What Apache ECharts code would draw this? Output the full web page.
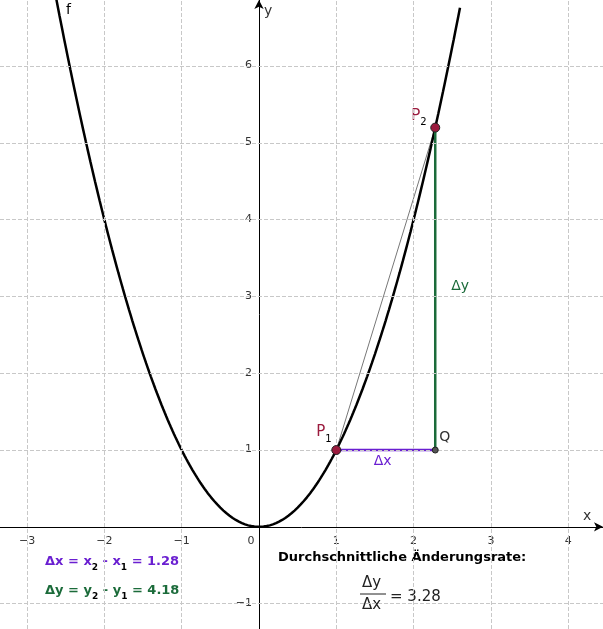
<!DOCTYPE html>
<html><head><meta charset="utf-8">
<script src="https://cdn.jsdelivr.net/npm/echarts@6/dist/echarts.min.js"></script>
<style>html,body{margin:0;padding:0;background:#fff}#c{width:603px;height:629px}</style>
</head><body><div id="c"></div>
<script>
const xTicks = [-3,-2,-1,1,2,3,4];
const yTicks = [-1,1,2,3,4,5,6];
const gridX = [-3,-2,-1,1,2,3,4];
const gridY = [-1,1,2,3,4,5,6];
const P1 = [1, 1];
const P2 = [2.28, 5.1984];
const Q = [2.28, 1];
const dx = 1.28, dy = 4.18, rate = 3.28;
const f = x => x * x;
const curve = [];
for (let x = -2.7; x <= 2.6001; x += 0.02) curve.push([+x.toFixed(3), f(x)]);

const chart = echarts.init(document.getElementById('c'), null, {renderer:'canvas'});
const FONT = 'DejaVu Sans';
const dash = {type:'dashed', color:'#c8c8c8', width:1};
const purple = '#6a1fd1', green = '#1b6b3a', red = '#9b1b3e';
const fmt = v => v < 0 ? '\u2212' + (-v) : String(v);
function sub(x, y, main, s, color, size, bold) {
  const w = bold ? 'bold' : 'normal';
  return {type:'text', left:x, top:y, style:{
    text: main.map((m, i) => '{a|' + m + '}' + (s[i] !== undefined ? '{s|' + s[i] + '}' : '')).join(''),
    rich:{a:{fontSize:size,fontWeight:w,fill:color,color:color,fontFamily:FONT,verticalAlign:'top'},
          s:{fontSize:Math.round(size*0.68),fontWeight:w,color:color,fontFamily:FONT,verticalAlign:'top',padding:[Math.round(size*0.6),0,0,0]}}}};
}
chart.setOption({
  animation:false,
  textStyle:{fontFamily:FONT},
  grid:{left:0,right:0,top:0,bottom:0,outerBoundsMode:'none',containLabel:false},
  xAxis:{type:'value',min:-3.35,max:4.45,splitLine:{show:false},
    axisLine:{onZero:true,lineStyle:{color:'#000',width:1},symbol:['none','arrow'],symbolSize:[7,9]},
    axisTick:{show:false},axisLabel:{show:false}},
  yAxis:{type:'value',min:-1.33,max:6.86,splitLine:{show:false},
    axisLine:{onZero:true,lineStyle:{color:'#000',width:1},symbol:['none','arrow'],symbolSize:[7,9]},
    axisTick:{show:false},axisLabel:{show:false}},
  series:[
    {type:'line',data:[],silent:true,
     markLine:{silent:true,symbol:'none',label:{show:false},lineStyle:dash,
       data:gridX.map(v=>({xAxis:v})).concat(gridY.map(v=>({yAxis:v})))}},
    {type:'line',data:curve,showSymbol:false,lineStyle:{color:'#000',width:2.5},z:3},
    {type:'line',data:[P1,P2],showSymbol:false,lineStyle:{color:'#777',width:1},z:2},
    {type:'line',data:[P1,Q],showSymbol:false,lineStyle:{color:purple,width:2.5},z:3},
    {type:'line',data:[Q,P2],showSymbol:false,lineStyle:{color:green,width:2.5},z:3},
    {type:'scatter',data:[Q],symbolSize:6,itemStyle:{color:'#555',borderColor:'#222',borderWidth:1,opacity:1},z:5},
    {type:'scatter',data:[P1,P2],symbolSize:9,itemStyle:{color:red,borderColor:'#222',borderWidth:1,opacity:1},z:5}
  ]
});
const o = chart.convertToPixel({gridIndex:0},[0,0]);
const g = [];
xTicks.forEach(v => { const p = chart.convertToPixel({gridIndex:0},[v,0]);
  g.push({type:'text',x:p[0],y:o[1]+9,style:{text:fmt(v),font:'11px '+FONT,fill:'#333',align:'center'}}); });
g.push({type:'text',x:o[0]-8,y:o[1]+9,style:{text:'0',font:'11px '+FONT,fill:'#333',align:'center'}});
yTicks.forEach(v => { const p = chart.convertToPixel({gridIndex:0},[0,v]);
  g.push({type:'text',x:o[0]-7,y:p[1]-6,style:{text:fmt(v),font:'11px '+FONT,fill:'#333',align:'right'}}); });
const P1p = chart.convertToPixel({gridIndex:0},P1), P2p = chart.convertToPixel({gridIndex:0},P2), Qp = chart.convertToPixel({gridIndex:0},Q);
g.push(
  {type:'text',left:66,top:3,style:{text:'f',font:'14px '+FONT,fill:'#000'}},
  {type:'text',left:o[0]+5,top:4,style:{text:'y',font:'14px '+FONT,fill:'#333'}},
  {type:'text',left:583,top:o[1]-17,style:{text:'x',font:'14px '+FONT,fill:'#333'}},
  sub(P1p[0]-20,P1p[1]-25,['P'],['1'],red,15,false),
  sub(P2p[0]-24,P2p[1]-19,['P'],['2'],red,15,false),
  {type:'text',left:Qp[0]+4,top:Qp[1]-20,style:{text:'Q',font:'14px '+FONT,fill:'#333'}},
  {type:'text',left:(P1p[0]+Qp[0])/2-12,top:Qp[1]+4,style:{text:'\u0394x',font:'14px '+FONT,fill:purple}},
  {type:'text',left:Qp[0]+16,top:(Qp[1]+P2p[1])/2-9,style:{text:'\u0394y',font:'14px '+FONT,fill:green}},
  sub(45,555,['\u0394x = x',' - x',' = '+dx.toFixed(2)],['2','1'],purple,13,true),
  sub(45,584,['\u0394y = y',' - y',' = '+dy.toFixed(2)],['2','1'],green,13,true),
  {type:'text',left:278,top:551,style:{text:'Durchschnittliche \u00c4nderungsrate:',font:'bold 13px '+FONT,fill:'#000'}},
  {type:'text',left:362,top:576,style:{text:'\u0394y',font:'15px '+FONT,fill:'#222'}},
  {type:'line',shape:{x1:360,y1:594,x2:386,y2:594},style:{stroke:'#222',lineWidth:1}},
  {type:'text',left:362,top:598,style:{text:'\u0394x',font:'15px '+FONT,fill:'#222'}},
  {type:'text',left:390,top:590,style:{text:'= '+rate.toFixed(2),font:'15px '+FONT,fill:'#222'}}
);
chart.setOption({graphic:g});
</script></body></html>
